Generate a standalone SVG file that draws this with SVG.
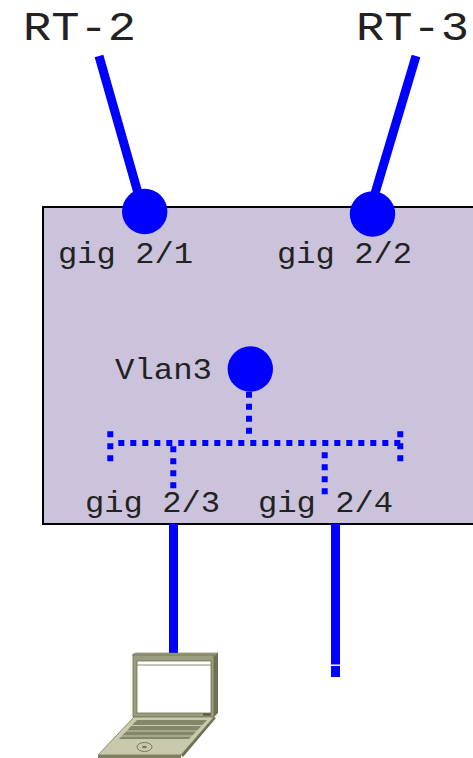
<svg xmlns="http://www.w3.org/2000/svg" width="473" height="758" viewBox="0 0 473 758">
<style>
text{font-family:"Liberation Mono","Courier New",monospace;fill:#222}
.big{font-size:41px}
.lab{font-size:29px}
.solid{stroke:#0000ff;stroke-width:9;fill:none}
.dot{stroke:#0000ff;stroke-width:6;stroke-dasharray:6 6;fill:none}
.port{fill:#0000ff}
</style>
<rect width="473" height="758" fill="#fff"/>
<g id="switch"><rect x="43" y="207" width="440" height="317" fill="#cbc2db" stroke="#000" stroke-width="2"/></g>
<g id="connectors">
<path class="solid" d="M99 56L140 200"/>
<path class="solid" d="M416 56L373 200"/>
<path class="solid" d="M173.500 524V653"/>
<path class="solid" d="M335.500 524V664.500M335.500 666V677"/>
<path class="dot" d="M118.300 443H404"/>
<path class="dot" d="M110.300 431.300V462"/>
<path class="dot" d="M400.300 431.300V462"/>
<path class="dot" d="M249 391.700V435"/>
<path class="dot" d="M173.300 446.300V489"/>
<path class="dot" d="M324.700 452.300V495"/>
</g>
<g id="rt2"><text class="big" x="23" y="40" textLength="113" lengthAdjust="spacingAndGlyphs">RT-2</text></g>
<g id="rt3"><text class="big" x="356" y="40" textLength="113" lengthAdjust="spacingAndGlyphs">RT-3</text></g>
<g id="gig21"><circle class="port" cx="144.700" cy="211.500" r="22.700"/><text class="lab" x="58" y="263" textLength="135" lengthAdjust="spacingAndGlyphs">gig 2/1</text></g>
<g id="gig22"><circle class="port" cx="372.500" cy="214" r="22.700"/><text class="lab" x="277" y="263" textLength="135" lengthAdjust="spacingAndGlyphs">gig 2/2</text></g>
<g id="vlan3"><circle class="port" cx="250.300" cy="369" r="22.700"/><text class="lab" x="115" y="379" textLength="97" lengthAdjust="spacingAndGlyphs">Vlan3</text></g>
<g id="gig23"><text class="lab" x="85" y="512" textLength="135" lengthAdjust="spacingAndGlyphs">gig 2/3</text></g>
<g id="gig24"><text class="lab" x="258" y="512" textLength="135" lengthAdjust="spacingAndGlyphs">gig 2/4</text></g>
<g id="laptop">
<path d="M133 654L136 653H218L214 656H133Z" fill="#a3a583" stroke="#6d6f53" stroke-width=".6"/>
<path d="M214 656L218 653V713L214 717Z" fill="#6f7155"/>
<rect x="133" y="655" width="81" height="62" fill="#9b9d7c" stroke="#6d6f53" stroke-width=".8"/>
<rect x="137" y="661" width="74" height="52" fill="#fff" stroke="#6d6f53" stroke-width=".8"/>
<path d="M137 665H211" stroke="#8a8c6c" stroke-width="1"/>
<rect x="203" y="713.500" width="8" height="2" fill="#55563f"/>
<path d="M134 717H214L181 755H98Z" fill="#c9c9ad" stroke="#77795c" stroke-width=".8"/>
<path d="M214 717L216 718L183 757L181 755Z" fill="#6f7155"/>
<path d="M98 755H181L181 758H98Z" fill="#7d7f60"/>
<path d="M137 720H207L189 739H119Z" fill="#85876a"/>
<path d="M130 725.500H203M125 731H198M120 736H193" stroke="#c9c9ad" stroke-width="1"/>
<ellipse cx="144.500" cy="747" rx="7.500" ry="4.500" fill="none" stroke="#77795c" stroke-width="1"/>
<ellipse cx="144.500" cy="747" rx="2.500" ry="1.200" fill="#77795c"/>
</g>
</svg>
